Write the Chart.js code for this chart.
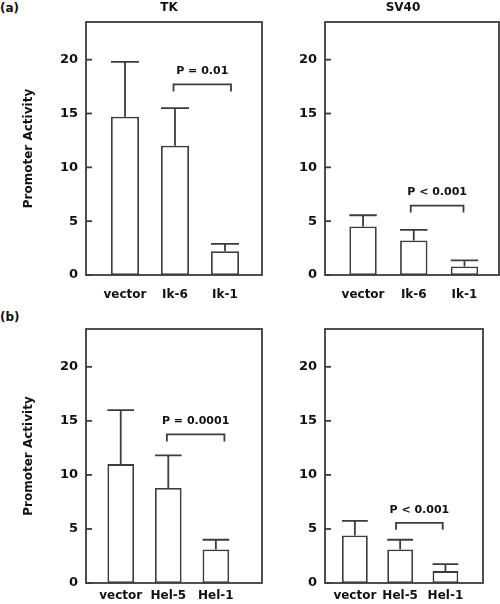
<!DOCTYPE html>
<html><head><meta charset="utf-8">
<script src="https://cdn.jsdelivr.net/npm/chart.js@4"></script>
<style>
html,body{margin:0;padding:0;background:#fff;width:500px;height:604px;overflow:hidden;position:relative}
canvas{position:absolute}
.lbl{position:absolute;font:bold 12px "DejaVu Sans";color:#111;line-height:14px}
</style></head><body>
<div class="lbl" style="left:0;top:1px">(a)</div>
<div class="lbl" style="left:0;top:310px">(b)</div>
<canvas id="c1" width="275" height="302" style="left:0;top:0"></canvas>
<canvas id="c2" width="210" height="302" style="left:290px;top:0"></canvas>
<canvas id="c3" width="275" height="302" style="left:0;top:302px"></canvas>
<canvas id="c4" width="200" height="302" style="left:290px;top:302px"></canvas>
<script>
// ---- data ----
const tkCategories = ['vector', 'Ik-6', 'Ik-1'];
const tkMeans = [14.7, 12.0, 2.2];
const tkErrors = [5.1, 3.5, 0.7];
const sv40Means = [4.5, 3.2, 0.8];
const sv40Errors = [1.05, 1.0, 0.55];
const helCategories = ['vector', 'Hel-5', 'Hel-1'];
const helTkMeans = [11.0, 8.8, 3.1];
const helTkErrors = [5.0, 3.0, 0.9];
const helSv40Means = [4.4, 3.1, 1.1];
const helSv40Errors = [1.35, 0.9, 0.65];
const pLabels = ['P = 0.01', 'P < 0.001', 'P = 0.0001', 'P < 0.001'];
const panelTitles = ['TK', 'SV40', '', ''];
const yAxisTitle = 'Promoter Activity';
const yMax = 23.5;
const yStep = 5;

const FAM = 'DejaVu Sans';
const XFONT = {family: FAM, size: 12, weight: 'bold'};
const YFONT = {family: FAM, size: 13, weight: 'bold'};
const TFONT = {family: FAM, size: 12, weight: 'bold'};
const TEXT = '#111';
const LINE = '#3c3c3c';
const LW = 1.8;

function makePanel(id, cats, means, errs, pLabel, title, L) {
  const decor = {
    id: 'decor_' + id,
    afterDatasetsDraw(chart) {
      const ctx = chart.ctx, a = chart.chartArea;
      const xs = chart.scales.x, ys = chart.scales.y;
      const bars = chart.getDatasetMeta(0).data;
      ctx.save();
      ctx.strokeStyle = LINE; ctx.lineWidth = LW; ctx.lineCap = 'butt';
      // error bars (upper only)
      bars.forEach((b, i) => {
        const top = ys.getPixelForValue(means[i] + errs[i]);
        const w = b.width;
        ctx.beginPath();
        ctx.moveTo(b.x, b.y); ctx.lineTo(b.x, top);
        ctx.moveTo(b.x - w / 2, top); ctx.lineTo(b.x + w / 2, top);
        ctx.stroke();
      });
      // frame
      ctx.strokeRect(a.left, a.top, a.right - a.left, a.bottom - a.top);
      // inward ticks
      ys.ticks.forEach(t => {
        const y = ys.getPixelForValue(t.value);
        ctx.beginPath(); ctx.moveTo(a.left, y); ctx.lineTo(a.left + 6, y); ctx.stroke();
      });
      // bracket with p-value
      const x1 = xs.getPixelForValue(L.bracket[0]), x2 = xs.getPixelForValue(L.bracket[1]);
      const by = ys.getPixelForValue(L.bracket[2]);
      ctx.beginPath();
      ctx.moveTo(x1, by + 7); ctx.lineTo(x1, by); ctx.lineTo(x2, by); ctx.lineTo(x2, by + 7);
      ctx.stroke();
      ctx.fillStyle = TEXT;
      ctx.font = 'bold 11px "' + FAM + '"';
      ctx.textAlign = 'center'; ctx.textBaseline = 'middle';
      ctx.fillText(pLabel, (x1 + x2) / 2, by - 13);
      if (title) {
        ctx.font = 'bold 12px "' + FAM + '"';
        ctx.fillText(title, (a.left + a.right) / 2 + L.titleDx, L.titleY);
      }
      ctx.restore();
    }
  };
  return new Chart(document.getElementById(id), {
    type: 'bar',
    data: {
      datasets: [{
        data: means.map((m, i) => ({x: i, y: m})),
        backgroundColor: '#ffffff',
        borderColor: LINE,
        borderWidth: LW,
        borderSkipped: false,
        barPercentage: L.barPct,
        categoryPercentage: 1
      }]
    },
    options: {
      responsive: false,
      animation: false,
      devicePixelRatio: 1,
      layout: {padding: L.pad},
      plugins: {legend: {display: false}, tooltip: {enabled: false}, title: {display: false}},
      scales: {
        x: {
          type: 'linear', min: L.xMin, max: L.xMax, offset: false,
          afterFit: s => { s.height = L.xH; },
          afterBuildTicks: s => { s.ticks = cats.map((c, i) => ({value: i})); },
          grid: {display: false, drawTicks: false},
          border: {display: false},
          ticks: {padding: L.xPad, autoSkip: false, maxRotation: 0, color: TEXT, font: XFONT,
                  callback: v => cats[v] !== undefined ? cats[v] : ''}
        },
        y: {
          min: 0, max: yMax,
          afterFit: s => { s.width = L.yW; },
          grid: {display: false, drawTicks: false},
          border: {display: false},
          ticks: {stepSize: yStep, includeBounds: false, padding: L.yPad, color: TEXT, font: YFONT},
          title: {display: L.yTitle, text: yAxisTitle, color: TEXT, font: TFONT, padding: {top: 22, bottom: 0}}
        }
      }
    },
    plugins: [decor]
  });
}

makePanel('c1', tkCategories, tkMeans, tkErrors, pLabels[0], panelTitles[0], {
  pad: {left: 0, right: 13, top: 22, bottom: 0}, yW: 86, xH: 27, xPad: 13, yPad: 8,
  xMin: -0.78, xMax: 2.74, barPct: 0.56, yTitle: true,
  bracket: [0.97, 2.12, 17.7], titleDx: -5, titleY: 8
});
makePanel('c2', tkCategories, sv40Means, sv40Errors, pLabels[1], panelTitles[1], {
  pad: {left: 0, right: 1, top: 22, bottom: 0}, yW: 35, xH: 27, xPad: 13, yPad: 8,
  xMin: -0.75, xMax: 2.68, barPct: 0.54, yTitle: false,
  bracket: [0.94, 1.98, 6.45], titleDx: -9, titleY: 8
});
makePanel('c3', helCategories, helTkMeans, helTkErrors, pLabels[2], panelTitles[2], {
  pad: {left: 0, right: 13, top: 27, bottom: 0}, yW: 86, xH: 21, xPad: 6, yPad: 8,
  xMin: -0.73, xMax: 2.97, barPct: 0.56, yTitle: true,
  bracket: [0.97, 2.18, 13.75], titleDx: 0, titleY: 8
});
makePanel('c4', helCategories, helSv40Means, helSv40Errors, pLabels[3], panelTitles[3], {
  pad: {left: 0, right: 7, top: 27, bottom: 0}, yW: 35, xH: 21, xPad: 6, yPad: 8,
  xMin: -0.66, xMax: 2.83, barPct: 0.57, yTitle: false,
  bracket: [0.91, 1.94, 5.57], titleDx: 0, titleY: 8
});
</script>
</body></html>
